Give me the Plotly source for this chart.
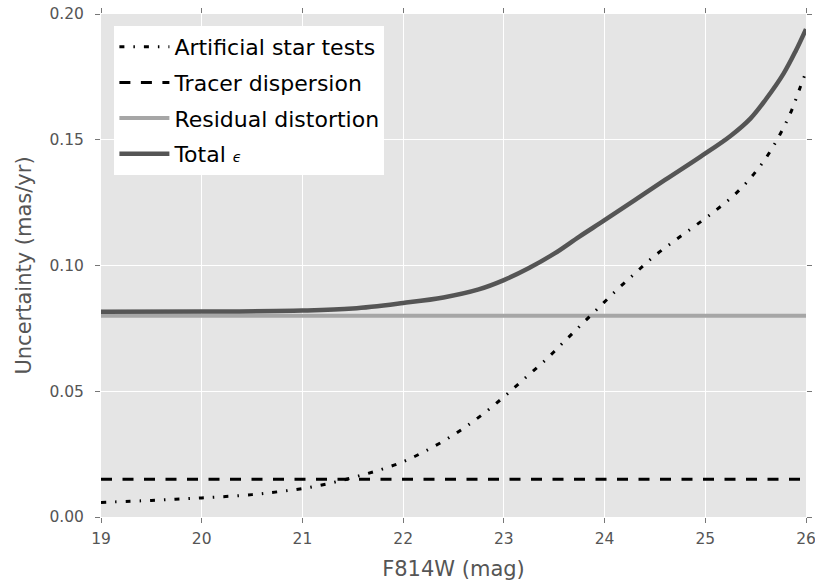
import plotly.graph_objects as go

# ---- data ----
art_mag = [19.0, 19.5, 20.0, 20.5, 20.75, 21.0, 21.25, 21.5, 21.75, 22.0, 22.21, 22.43,
           22.64, 22.84, 23.03, 23.22, 23.41, 23.59, 23.77, 23.95, 24.13, 24.31, 24.49,
           24.69, 24.90, 25.10, 25.29, 25.46, 25.61, 25.74, 25.85, 25.94, 26.0]
art_unc = [0.0058, 0.0066, 0.0076, 0.0089, 0.0100, 0.0113, 0.0132, 0.0157, 0.0185, 0.0220,
           0.0260, 0.0309, 0.0364, 0.0424, 0.0488, 0.0556, 0.0623, 0.0694, 0.0765, 0.0836,
           0.0906, 0.0972, 0.1036, 0.1097, 0.1158, 0.1218, 0.1281, 0.1353, 0.1432, 0.1520,
           0.1610, 0.1706, 0.1770]

tracer_mag = [19.0, 26.0]
tracer_unc = [0.015, 0.015]

resid_mag = [19.0, 26.0]
resid_unc = [0.080, 0.080]

total_mag = [19.0, 20.0, 21.0, 21.5, 22.0, 22.4, 22.75, 23.0, 23.25, 23.5, 23.75, 24.0,
             24.3, 24.6, 24.95, 25.25, 25.45, 25.6, 25.78, 25.9, 26.0]
total_unc = [0.0816, 0.0817, 0.0821, 0.0829, 0.0851, 0.0873, 0.0905, 0.0942, 0.0990, 0.1047,
             0.1115, 0.1180, 0.1260, 0.1340, 0.1432, 0.1515, 0.1585, 0.1660, 0.1765, 0.1855,
             0.1940]

x_ticks = [19, 20, 21, 22, 23, 24, 25, 26]
y_ticks = [0.00, 0.05, 0.10, 0.15, 0.20]

FONT = "DejaVu Sans"

fig = go.Figure()
fig.add_trace(go.Scatter(x=resid_mag, y=resid_unc, mode="lines", name="Residual distortion",
                         line=dict(color="#A6A6A6", width=4), legendrank=3, legendgroup="c"))
fig.add_trace(go.Scatter(x=total_mag, y=total_unc, mode="lines",
                         name="Total <i><span style='font-size:14px'>ϵ</span></i>",
                         line=dict(color="#555555", width=4.5, shape="spline", smoothing=1.0),
                         legendrank=4, legendgroup="d"))
fig.add_trace(go.Scatter(x=tracer_mag, y=tracer_unc, mode="lines", name="Tracer dispersion",
                         line=dict(color="black", width=3, dash="11px,10.5px"), legendrank=2,
                         legendgroup="b"))
fig.add_trace(go.Scatter(x=art_mag, y=art_unc, mode="lines", name="Artificial star tests",
                         line=dict(color="black", width=3, dash="5px,9px,1.5px,9px",
                                   shape="spline", smoothing=1.0), legendrank=1,
                         legendgroup="a"))

axis_common = dict(
    showgrid=True, gridcolor="white", gridwidth=1, zeroline=False,
    ticks="outside", ticklen=5, tickcolor="#777777", tickwidth=1,
    mirror="ticks", showline=False, ticklabeloverflow="allow", automargin=False,
    tickfont=dict(family=FONT, size=15.5, color="#555555"),
)

fig.update_layout(
    width=815, height=586,
    margin=dict(l=101, r=9, t=14, b=69, autoexpand=False),
    paper_bgcolor="white", plot_bgcolor="#E5E5E5",
    font=dict(family=FONT, color="#555555"),
    xaxis=dict(range=[19, 26], tickvals=x_ticks, ticktext=[str(v) for v in x_ticks],
               title=dict(text="F814W (mag)", font=dict(family=FONT, size=21, color="#555555"), standoff=14),
               ticklabelstandoff=2, **axis_common),
    yaxis=dict(range=[0, 0.2], tickvals=y_ticks, ticktext=[f"{v:.2f}" for v in y_ticks],
               title=dict(text="Uncertainty (mas/yr)", font=dict(family=FONT, size=21, color="#555555"), standoff=12),
               ticklabelstandoff=8, **axis_common),
    legend=dict(x=0.019, y=0.976, xanchor="left", yanchor="top", bgcolor="white",
                borderwidth=0, font=dict(family=FONT, size=22, color="black"),
                itemwidth=50, tracegroupgap=4),
    showlegend=True,
)

fig.write_html("out.html")
